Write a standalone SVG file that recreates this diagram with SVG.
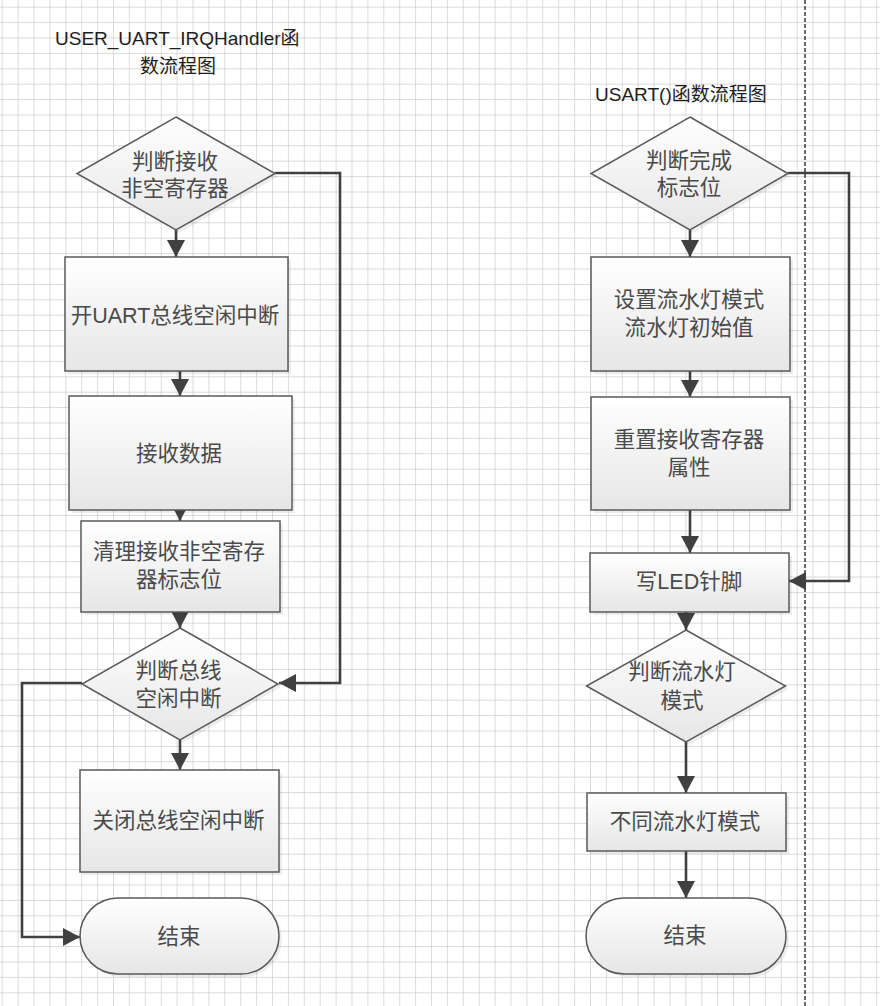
<svg xmlns="http://www.w3.org/2000/svg" width="880" height="1006" viewBox="0 0 880 1006">
<style>
.shape{fill:url(#fillg);stroke:#5a5a5a;stroke-width:1.5}
.shadow{fill:#000;opacity:0.07}
.conn{fill:none;stroke:#404040;stroke-width:2.6}
.t{font-family:"Liberation Sans","Noto Sans CJK SC",sans-serif;font-size:21.5px;fill:#4a4a4a;text-anchor:middle}
.title{font-family:"Liberation Sans","Noto Sans CJK SC",sans-serif;font-size:19px;fill:#1e1e1e}
</style>
<defs>
<linearGradient id="fillg" x1="0" y1="0" x2="0" y2="1">
<stop offset="0" stop-color="#ffffff"/>
<stop offset="1" stop-color="#e6e6e6"/>
</linearGradient>
<pattern id="grid" x="1.7" y="6.7" width="15.9" height="15.4" patternUnits="userSpaceOnUse">
<path d="M0,0V15.4M0,0H15.9" fill="none" stroke="#cdcdcd" stroke-width="1.4"/>
</pattern>
<marker id="arr" markerWidth="18" markerHeight="18" refX="17" refY="9" orient="auto" markerUnits="userSpaceOnUse">
<path d="M0,0L17,9L0,18z" fill="#404040"/>
</marker>
</defs>
<rect x="0" y="0" width="880" height="1006" fill="#ffffff"/>
<rect x="0" y="0" width="880" height="1006" fill="url(#grid)"/>
<line x1="805" y1="0" x2="805" y2="1006" stroke="#3a3a3a" stroke-width="1.5" stroke-dasharray="4 2"/>

<g id="titles">
<text class="title" x="55" y="45">USER_UART_IRQHandler函</text>
<text class="title" x="178" y="73" text-anchor="middle">数流程图</text>
<text class="title" x="595" y="101">USART()函数流程图</text>
</g>

<g id="connectors">
<path class="conn" d="M176,230V257" marker-end="url(#arr)"/>
<path class="conn" d="M180,371V396" marker-end="url(#arr)"/>
<path class="conn" d="M180,510V521" marker-end="url(#arr)"/>
<path class="conn" d="M180,612V628" marker-end="url(#arr)"/>
<path class="conn" d="M180,740V770" marker-end="url(#arr)"/>
<path class="conn" d="M275,173H340V683H279" marker-end="url(#arr)"/>
<path class="conn" d="M82,683H22V937H80" marker-end="url(#arr)"/>
<path class="conn" d="M690,230V257" marker-end="url(#arr)"/>
<path class="conn" d="M690,371V397" marker-end="url(#arr)"/>
<path class="conn" d="M690,510V553" marker-end="url(#arr)"/>
<path class="conn" d="M686,612V630" marker-end="url(#arr)"/>
<path class="conn" d="M686,742V793" marker-end="url(#arr)"/>
<path class="conn" d="M686,851V898" marker-end="url(#arr)"/>
<path class="conn" d="M788,173H849V581H789" marker-end="url(#arr)"/>
</g>

<g id="d1">
<polygon class="shadow" points="179,120 278,176.5 179,233 80,176.5"/>
<polygon class="shape" points="176,117 275,173.5 176,230 77,173.5"/>
<text class="t" x="175" y="169">判断接收</text>
<text class="t" x="175" y="196">非空寄存器</text>
</g>
<g id="b1">
<rect class="shadow" x="68" y="260" width="223" height="114"/>
<rect class="shape" x="65" y="257" width="223" height="114"/>
<text class="t" x="175" y="322.5">开UART总线空闲中断</text>
</g>
<g id="b2">
<rect class="shadow" x="72" y="399" width="223" height="114"/>
<rect class="shape" x="69" y="396" width="223" height="114"/>
<text class="t" x="179" y="460.5">接收数据</text>
</g>
<g id="b3">
<rect class="shadow" x="84" y="524" width="199" height="91"/>
<rect class="shape" x="81" y="521" width="199" height="91"/>
<text class="t" x="179" y="559">清理接收非空寄存</text>
<text class="t" x="179" y="587">器标志位</text>
</g>
<g id="d2">
<polygon class="shadow" points="183,631 281,687 183,743 85,687"/>
<polygon class="shape" points="180,628 278,684 180,740 82,684"/>
<text class="t" x="178.5" y="677.5">判断总线</text>
<text class="t" x="178.5" y="705.5">空闲中断</text>
</g>
<g id="b4">
<rect class="shadow" x="83" y="773" width="199" height="102"/>
<rect class="shape" x="80" y="770" width="199" height="102"/>
<text class="t" x="178.5" y="827.5">关闭总线空闲中断</text>
</g>
<g id="e1">
<rect class="shadow" x="83" y="901" width="199" height="76" rx="38"/>
<rect class="shape" x="80" y="898" width="199" height="76" rx="38"/>
<text class="t" x="179" y="943.5">结束</text>
</g>

<g id="d3">
<polygon class="shadow" points="693,120 791,176.5 693,233 594,176.5"/>
<polygon class="shape" points="690,117 788,173.5 690,230 591,173.5"/>
<text class="t" x="689" y="167.5">判断完成</text>
<text class="t" x="689" y="195">标志位</text>
</g>
<g id="b5">
<rect class="shadow" x="594" y="260" width="199" height="114"/>
<rect class="shape" x="591" y="257" width="199" height="114"/>
<text class="t" x="689" y="307">设置流水灯模式</text>
<text class="t" x="689" y="334.5">流水灯初始值</text>
</g>
<g id="b6">
<rect class="shadow" x="594" y="400" width="199" height="113"/>
<rect class="shape" x="591" y="397" width="199" height="113"/>
<text class="t" x="689" y="447">重置接收寄存器</text>
<text class="t" x="689" y="474.5">属性</text>
</g>
<g id="b7">
<rect class="shadow" x="593" y="556" width="199" height="59"/>
<rect class="shape" x="590" y="553" width="199" height="59"/>
<text class="t" x="689" y="589">写LED针脚</text>
</g>
<g id="d4">
<polygon class="shadow" points="689,633 788.5,689 689,745 589.5,689"/>
<polygon class="shape" points="686,630 785.5,686 686,742 586.5,686"/>
<text class="t" x="682" y="679">判断流水灯</text>
<text class="t" x="682" y="707.5">模式</text>
</g>
<g id="b8">
<rect class="shadow" x="590" y="796" width="199" height="58"/>
<rect class="shape" x="587" y="793" width="199" height="58"/>
<text class="t" x="685" y="828.5">不同流水灯模式</text>
</g>
<g id="e2">
<rect class="shadow" x="589" y="901" width="200" height="76" rx="38"/>
<rect class="shape" x="586" y="898" width="200" height="76" rx="38"/>
<text class="t" x="685" y="942.5">结束</text>
</g>
</svg>
